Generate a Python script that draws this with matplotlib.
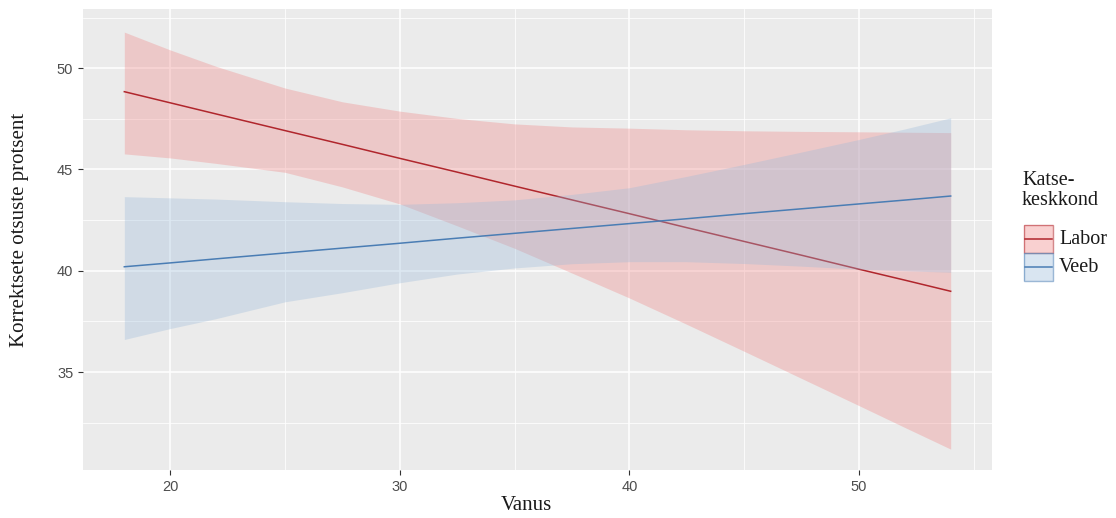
import matplotlib
matplotlib.use("Agg")
import matplotlib.pyplot as plt
from matplotlib.patches import Rectangle
from matplotlib.lines import Line2D
from matplotlib.ticker import MultipleLocator

# values
vanus = [18, 20, 22, 25, 27.5, 30, 32.5, 35, 37.5, 40, 42.5, 45, 47.5, 50, 52, 54]

labor_fit = [48.84, 48.29, 47.74, 46.92, 46.24, 45.55, 44.87, 44.18,
             43.50, 42.82, 42.13, 41.45, 40.77, 40.08, 39.54, 38.99]
labor_low = [45.77, 45.57, 45.30, 44.86, 44.14, 43.30, 42.22, 41.11,
             39.89, 38.66, 37.36, 36.03, 34.69, 33.35, 32.27, 31.20]
labor_high = [51.78, 50.90, 50.09, 49.02, 48.34, 47.88, 47.52, 47.25,
              47.10, 47.04, 46.96, 46.91, 46.88, 46.86, 46.84, 46.82]

veeb_fit = [40.20, 40.39, 40.59, 40.88, 41.12, 41.36, 41.61, 41.85,
            42.09, 42.33, 42.57, 42.82, 43.06, 43.30, 43.49, 43.69]
veeb_low = [36.61, 37.15, 37.64, 38.47, 38.92, 39.41, 39.84, 40.14,
            40.35, 40.45, 40.45, 40.36, 40.23, 40.08, 40.00, 39.93]
veeb_high = [43.66, 43.60, 43.54, 43.41, 43.32, 43.28, 43.36, 43.50,
             43.77, 44.10, 44.66, 45.25, 45.86, 46.48, 47.00, 47.55]

groups = ["Labor", "Veeb"]
LINE_COLORS = {"Labor": "#b0262c", "Veeb": "#4a7db4"}
FILL_COLORS = {"Labor": "#f08080", "Veeb": "#98b9da"}
FILL_ALPHA = 0.32

SERIF = "Liberation Serif"
SANS = "Liberation Sans"
TEXT_COLOR = "#1a1a1a"
TICK_COLOR = "#4d4d4d"

W, H = 1116, 518
fig = plt.figure(figsize=(W / 100, H / 100), dpi=100)
fig.patch.set_facecolor("white")

left, right, top, bottom = 83, 992, 9, 470
ax = fig.add_axes([left / W, 1 - bottom / H, (right - left) / W, (bottom - top) / H])
ax.set_facecolor("#ebebeb")

series = {
    "Labor": (labor_fit, labor_low, labor_high),
    "Veeb": (veeb_fit, veeb_low, veeb_high),
}
z = 2
for g in groups:
    fit, low, high = series[g]
    ax.fill_between(vanus, low, high, color=FILL_COLORS[g], alpha=FILL_ALPHA,
                    linewidth=0, zorder=z)
    ax.plot(vanus, fit, color=LINE_COLORS[g], linewidth=1.1, zorder=z + 0.5)
    z += 1

ax.set_xlim(16.2, 55.8)
ax.set_ylim(30.17, 52.92)
ax.xaxis.set_major_locator(MultipleLocator(10))
ax.xaxis.set_minor_locator(MultipleLocator(5))
ax.yaxis.set_major_locator(MultipleLocator(5))
ax.yaxis.set_minor_locator(MultipleLocator(2.5))
ax.grid(which="major", color="white", linewidth=1.1, zorder=1)
ax.grid(which="minor", color="white", linewidth=0.55, zorder=1)
ax.set_axisbelow(True)
for s in ax.spines.values():
    s.set_visible(False)
ax.tick_params(which="major", length=3.5, width=0.8, color="#333333",
               labelsize=10.5, labelcolor=TICK_COLOR, pad=3.5)
ax.tick_params(which="minor", length=0)
for lab in ax.get_xticklabels() + ax.get_yticklabels():
    lab.set_fontfamily(SANS)

fig.text(20 / W, 1 - 230 / H, "Korrektsete otsuste protsent", rotation=90,
         ha="center", va="center", fontsize=15, family=SERIF, color=TEXT_COLOR)
fig.text(526 / W, 1 - 505 / H, "Vanus", ha="center", va="center",
         fontsize=15, family=SERIF, color=TEXT_COLOR)

# legend drawn by hand
fig.text(1022 / W, 1 - 171 / H, "Katse-\nkeskkond", ha="left", va="top",
         fontsize=14.5, family=SERIF, color=TEXT_COLOR, linespacing=1.05)
key_x, key_w, key_h = 1024, 29, 28
for i, g in enumerate(groups):
    ky = 225 + i * key_h
    rect = Rectangle((key_x / W, 1 - (ky + key_h) / H), key_w / W, key_h / H,
                     transform=fig.transFigure, facecolor=FILL_COLORS[g],
                     alpha=FILL_ALPHA + 0.05, edgecolor="none")
    fig.add_artist(rect)
    rect_edge = Rectangle((key_x / W, 1 - (ky + key_h) / H), key_w / W, key_h / H,
                          transform=fig.transFigure, facecolor="none",
                          edgecolor=LINE_COLORS[g], alpha=0.55, linewidth=1.0)
    fig.add_artist(rect_edge)
    yc = 1 - (ky + key_h / 2) / H
    fig.add_artist(Line2D([(key_x + 1) / W, (key_x + key_w - 1) / W], [yc, yc],
                          transform=fig.transFigure, color=LINE_COLORS[g],
                          linewidth=1.1))
    fig.text((key_x + key_w + 6) / W, yc, g, ha="left", va="center",
             fontsize=14.5, family=SERIF, color=TEXT_COLOR)

fig.savefig("out.png", dpi=100, facecolor=fig.get_facecolor())
